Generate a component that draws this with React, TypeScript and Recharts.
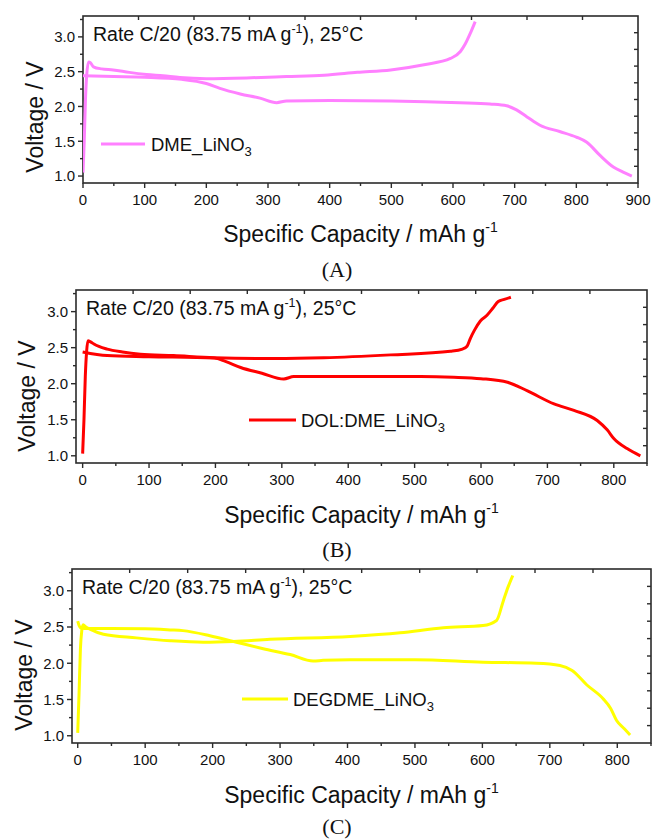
import { Customized, Line, LineChart, XAxis, YAxis } from 'recharts'

// Galvanostatic charge / discharge profiles, three electrolytes
const capChgA = [0, 2, 4, 6, 9, 12, 17, 30, 49, 75, 103, 130, 157, 200, 265, 330, 391, 445, 499, 553, 596, 612, 620, 628, 636]
const voltChgA = [1.05, 1.5, 2.1, 2.45, 2.64, 2.63, 2.57, 2.54, 2.525, 2.49, 2.46, 2.44, 2.415, 2.4, 2.41, 2.43, 2.45, 2.49, 2.525, 2.6, 2.69, 2.79, 2.9, 3.05, 3.22]
const capDisA = [0, 50, 100, 160, 200, 222, 255, 287, 314, 330, 400, 500, 611, 660, 687, 703, 720, 741, 773, 800, 817, 838, 860, 875, 890]
const voltDisA = [2.44, 2.43, 2.42, 2.39, 2.33, 2.26, 2.18, 2.12, 2.055, 2.08, 2.085, 2.08, 2.055, 2.035, 2.01, 1.95, 1.85, 1.73, 1.64, 1.56, 1.485, 1.3, 1.13, 1.06, 1.0]

const capChgB = [0, 2, 4, 6, 8, 12, 17, 37, 60, 87, 137, 198, 288, 363, 464, 554, 572, 579, 584, 590, 599, 609, 618, 626, 635, 645]
const voltChgB = [1.03, 1.5, 2.1, 2.45, 2.595, 2.58, 2.55, 2.48, 2.44, 2.41, 2.39, 2.36, 2.35, 2.36, 2.4, 2.45, 2.48, 2.52, 2.63, 2.74, 2.87, 2.95, 3.05, 3.14, 3.17, 3.2]
const capDisB = [0, 37, 100, 198, 215, 238, 270, 303, 318, 409, 509, 559, 600, 640, 670, 710, 740, 775, 790, 800, 820, 840]
const voltDisB = [2.44, 2.39, 2.375, 2.355, 2.31, 2.225, 2.145, 2.065, 2.1, 2.1, 2.1, 2.09, 2.07, 2.02, 1.9, 1.72, 1.63, 1.49, 1.36, 1.24, 1.1, 1.0]

const capChgC = [0, 2, 4, 6, 8, 12, 18, 38, 87, 137, 186, 231, 285, 404, 478, 542, 601, 621, 631, 638, 645]
const voltChgC = [1.04, 1.6, 2.2, 2.45, 2.53, 2.5, 2.47, 2.4, 2.35, 2.31, 2.29, 2.3, 2.33, 2.37, 2.42, 2.49, 2.52, 2.59, 2.86, 3.05, 3.21]
const capDisC = [0, 2, 4, 10, 50, 100, 137, 156, 196, 231, 275, 315, 349, 364, 404, 500, 601, 680, 715, 733, 755, 779, 790, 799, 810, 819]
const voltDisC = [2.58, 2.52, 2.49, 2.48, 2.48, 2.475, 2.46, 2.45, 2.38, 2.3, 2.2, 2.12, 2.03, 2.04, 2.05, 2.05, 2.015, 2.0, 1.97, 1.9, 1.7, 1.51, 1.38, 1.21, 1.1, 1.01]

// axis ticks
const xTicks900 = [0, 50, 100, 150, 200, 250, 300, 350, 400, 450, 500, 550, 600, 650, 700, 750, 800, 850, 900]
const xTicks850 = [0, 50, 100, 150, 200, 250, 300, 350, 400, 450, 500, 550, 600, 650, 700, 750, 800, 850]
const yTicks = [1.0, 1.25, 1.5, 1.75, 2.0, 2.25, 2.5, 2.75, 3.0, 3.25]
const rightTicks = [1.14, 1.38, 1.62, 1.86, 2.1, 2.34, 2.58, 2.82, 3.06]
const topTicksA = [90, 180, 270, 360, 450, 540, 630, 720, 810]
const topTicksB = [76, 162, 248, 334, 420, 506, 592, 678, 764]
const topTicksC = [77, 163, 249, 335, 421, 507, 592, 678, 764]
const V_RANGE: [number, number] = [0.9, 3.3]

const FRAME = '#2b2b2b'
const INK = '#111'
const SANS = '"Liberation Sans", Arial, sans-serif'
const SERIF = '"Liberation Serif", "Times New Roman", serif'

const zip = (c: number[], v: number[]) => c.map((x, i) => ({ c: x, v: v[i] }))

interface PanelCfg {
  top: number
  box: { left: number; right: number; top: number; bottom: number }
  xDomain: [number, number]
  xTicks: number[]
  topTicks: number[]
  chg: { c: number; v: number }[]
  dis: { c: number; v: number }[]
  color: string
  name: string
  letter: string
  legend: { x1: number; x2: number; y: number; tx: number }
  yTitle: { x: number; cy: number }
  xTitleY: number
  letterY: number
}

// one tall chart surface per panel is avoided: all panels share page coordinates,
// each chart covers the whole page and only its plot box differs
const panels: PanelCfg[] = [
  {
    top: 0,
    box: { left: 83, right: 638, top: 16, bottom: 183 },
    xDomain: [0, 900], xTicks: xTicks900, topTicks: topTicksA,
    chg: zip(capChgA, voltChgA), dis: zip(capDisA, voltDisA),
    color: '#ff80ff', name: 'DME_LiNO', letter: '(A)',
    legend: { x1: 101, x2: 145, y: 144, tx: 151 },
    yTitle: { x: 43, cy: 117 }, xTitleY: 242, letterY: 277,
  },
  {
    top: 0,
    box: { left: 76, right: 647, top: 290, bottom: 463 },
    xDomain: [-10, 850], xTicks: xTicks850, topTicks: topTicksB,
    chg: zip(capChgB, voltChgB), dis: zip(capDisB, voltDisB),
    color: '#ff0000', name: 'DOL:DME_LiNO', letter: '(B)',
    legend: { x1: 249, x2: 296, y: 420, tx: 301 },
    yTitle: { x: 35, cy: 396 }, xTitleY: 523, letterY: 557,
  },
  {
    top: 0,
    box: { left: 72, right: 651, top: 569, bottom: 743 },
    xDomain: [-8.5, 850], xTicks: xTicks850, topTicks: topTicksC,
    chg: zip(capChgC, voltChgC), dis: zip(capDisC, voltDisC),
    color: '#ffff00', name: 'DEGDME_LiNO', letter: '(C)',
    legend: { x1: 242, x2: 288, y: 699, tx: 293 },
    yTitle: { x: 32, cy: 675 }, xTitleY: 803, letterY: 834,
  },
]

function BottomTick({ x, y, payload }: any) {
  const major = payload.value % 100 === 0
  return (
    <g>
      <line x1={x} y1={y} x2={x} y2={y + (major ? 5 : 3)} stroke={FRAME} strokeWidth={1.4} />
      {major && (
        <text x={x} y={y + 22} textAnchor="middle" fontSize={15} fontFamily={SANS} fill={INK}>
          {payload.value}
        </text>
      )}
    </g>
  )
}

function LeftTick({ x, y, payload }: any) {
  const major = Math.abs(payload.value * 2 - Math.round(payload.value * 2)) < 1e-6
  return (
    <g>
      <line x1={x} y1={y} x2={x - (major ? 5 : 3)} y2={y} stroke={FRAME} strokeWidth={1.4} />
      {major && (
        <text x={x - 8} y={y + 5.3} textAnchor="end" fontSize={15} fontFamily={SANS} fill={INK}>
          {payload.value.toFixed(1)}
        </text>
      )}
    </g>
  )
}

function TopTick({ x, y }: any) {
  return <line x1={x} y1={y} x2={x} y2={y + 4} stroke={FRAME} strokeWidth={1.4} />
}

function RightTick({ x, y }: any) {
  return <line x1={x} y1={y} x2={x - 4} y2={y} stroke={FRAME} strokeWidth={1.4} />
}

function PanelText({ p }: { p: PanelCfg }) {
  const { box, legend } = p
  const cx = (box.left + box.right) / 2
  return (
    <g fontFamily={SANS} fill={INK}>
      {/* plot frame */}
      <rect
        x={box.left}
        y={box.top}
        width={box.right - box.left}
        height={box.bottom - box.top}
        fill="none"
        stroke={FRAME}
        strokeWidth={1.6}
      />
      <text x={box.left + 10} y={box.top + 25} fontSize={19.5}>
        Rate C/20 (83.75 mA g
        <tspan dy={-8} fontSize={12.5}>-1</tspan>
        <tspan dy={8} fontSize={19.5}>), 25°C</tspan>
      </text>
      <line x1={legend.x1} y1={legend.y} x2={legend.x2} y2={legend.y} stroke={p.color} strokeWidth={3} />
      <text x={legend.tx} y={legend.y + 7} fontSize={18.5}>
        {p.name}
        <tspan dy={5} fontSize={13}>3</tspan>
      </text>
      <text x={cx} y={p.xTitleY} fontSize={23} textAnchor="middle">
        Specific Capacity / mAh g
        <tspan dy={-10} fontSize={14}>-1</tspan>
      </text>
      <text
        x={p.yTitle.x}
        y={p.yTitle.cy}
        fontSize={23}
        textAnchor="middle"
        transform={`rotate(-90 ${p.yTitle.x} ${p.yTitle.cy})`}
      >
        Voltage / V
      </text>
      <text x={337} y={p.letterY} fontSize={22} fontFamily={SERIF} textAnchor="middle">
        {p.letter}
      </text>
    </g>
  )
}

const W = 654
const H = 840

function Panel({ p }: { p: PanelCfg }) {
  const { box } = p
  // every chart spans the full page so that nothing sits near a chart edge;
  // axes are 1px thick so that Recharts still draws them
  return (
    <div style={{ position: 'absolute', left: 0, top: 0, width: W, height: H, pointerEvents: 'none' }}>
      <LineChart
        width={W}
        height={H}
        margin={{ top: box.top - 1, left: box.left - 1, right: W - box.right - 1, bottom: H - box.bottom - 1 }}
      >
        <XAxis
          dataKey="c"
          type="number"
          domain={p.xDomain}
          ticks={p.xTicks}
          interval={0}
          height={1}
          tickSize={0}
          tickMargin={0}
          tickLine={false}
          axisLine={false}
          tick={(t: any) => <BottomTick {...t} />}
          allowDataOverflow
        />
        <XAxis
          xAxisId="top"
          orientation="top"
          dataKey="c"
          type="number"
          domain={p.xDomain}
          ticks={p.topTicks}
          interval={0}
          height={1}
          tickSize={0}
          tickMargin={0}
          tickLine={false}
          axisLine={false}
          tick={(t: any) => <TopTick {...t} />}
          allowDataOverflow
        />
        <YAxis
          type="number"
          domain={V_RANGE}
          ticks={yTicks}
          interval={0}
          width={1}
          tickSize={0}
          tickMargin={0}
          tickLine={false}
          axisLine={false}
          tick={(t: any) => <LeftTick {...t} />}
          allowDataOverflow
        />
        <YAxis
          yAxisId="right"
          orientation="right"
          type="number"
          domain={V_RANGE}
          ticks={rightTicks}
          interval={0}
          width={1}
          tickSize={0}
          tickMargin={0}
          tickLine={false}
          axisLine={false}
          tick={(t: any) => <RightTick {...t} />}
          allowDataOverflow
        />
        <Line data={p.dis} dataKey="v" type="monotone" stroke={p.color} strokeWidth={3} dot={false} isAnimationActive={false} />
        <Line data={p.chg} dataKey="v" type="monotone" stroke={p.color} strokeWidth={3} dot={false} isAnimationActive={false} />
        <Customized component={<PanelText p={p} />} />
      </LineChart>
    </div>
  )
}

export default function App() {
  return (
    <div style={{ position: 'absolute', left: 0, top: 0, width: W, height: H, background: '#fff' }}>
      {panels.map((p) => (
        <Panel key={p.letter} p={p} />
      ))}
    </div>
  )
}
